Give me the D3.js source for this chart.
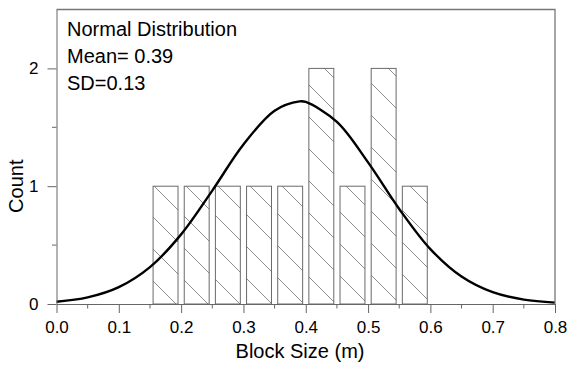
<!DOCTYPE html>
<html>
<head>
<meta charset="utf-8">
<script src="https://cdn.jsdelivr.net/npm/d3@7"></script>
<style>
  body { margin: 0; background: #fff; }
  text { font-family: "Liberation Sans", Arial, sans-serif; fill: #000; }
</style>
</head>
<body>
<script>
// histogram bins (bin centres, m) and counts
const binCentres = [0.175, 0.225, 0.275, 0.325, 0.375, 0.425, 0.475, 0.525, 0.575];
const counts = [1, 1, 1, 1, 1, 2, 1, 2, 1];
const binWidth = 0.05;

// fitted normal curve
const curveX = [0, 0.05, 0.1, 0.15, 0.2, 0.25, 0.3, 0.35, 0.39, 0.4, 0.45, 0.5, 0.55, 0.6, 0.65, 0.7, 0.75, 0.8];
const curveY = [0.019, 0.056, 0.143, 0.313, 0.591, 0.963, 1.354, 1.641, 1.72, 1.715, 1.546, 1.202, 0.807, 0.466, 0.233, 0.100, 0.037, 0.012];

const xTicks = [0, 0.1, 0.2, 0.3, 0.4, 0.5, 0.6, 0.7, 0.8];
const xMinor = [0.05, 0.15, 0.25, 0.35, 0.45, 0.55, 0.65, 0.75];
const yTicks = [0, 1, 2];
const yMinor = [0.5, 1.5];
const legendLines = ["Normal Distribution", "Mean= 0.39", "SD=0.13"];

const width = 568, height = 369;
const marginLeft = 56.5, marginRight = 13, marginTop = 9.5, marginBottom = 65;
const axisColor = "#666";

const svg = d3.select("body").append("svg")
    .attr("width", width)
    .attr("height", height);

const x = d3.scaleLinear().domain([0, 0.8]).range([marginLeft, width - marginRight]);
const y = d3.scaleLinear().domain([0, 2.5]).range([height - marginBottom, marginTop]);

// hatch pattern, "\" lines
const defs = svg.append("defs");
defs.append("pattern")
    .attr("id", "hatch")
    .attr("patternUnits", "userSpaceOnUse")
    .attr("width", 32).attr("height", 32)
  .append("path")
    .attr("d", "M0,0L32,32M-2,30L2,34M30,-2L34,2")
    .attr("stroke", "#808080")
    .attr("stroke-width", 0.9)
    .attr("fill", "none");

// bars
const barW = (x(binWidth) - x(0)) * 0.8;
svg.selectAll(".bar")
    .data(binCentres)
    .enter().append("rect")
    .attr("class", "bar")
    .attr("x", (d) => x(d) - barW / 2)
    .attr("y", (d, i) => y(counts[i]))
    .attr("width", barW)
    .attr("height", (d, i) => y(0) - y(counts[i]))
    .attr("fill", "url(#hatch)")
    .attr("stroke", "#6a6a6a")
    .attr("stroke-width", 1);

// normal curve
const line = d3.line()
    .x((d, i) => x(curveX[i]))
    .y((d) => y(d))
    .curve(d3.curveCatmullRom.alpha(0.5));
svg.append("path")
    .datum(curveY)
    .attr("d", line)
    .attr("fill", "none")
    .attr("stroke", "#000")
    .attr("stroke-width", 2.4);

// frame (top + right)
svg.append("path")
    .attr("d", `M${x(0)},${y(2.5)}H${x(0.8)}V${y(0)}`)
    .attr("fill", "none")
    .attr("stroke", "#777")
    .attr("stroke-width", 1.3);

// x axis
const gx = svg.append("g")
    .attr("transform", `translate(0,${y(0)})`)
    .call(d3.axisBottom(x).tickValues(xTicks).tickFormat(d3.format(".1f")).tickSize(9).tickPadding(8).tickSizeOuter(0));
gx.selectAll(".tick text").attr("font-size", 17).attr("font-family", null);
gx.selectAll("line, path").attr("stroke", axisColor);
svg.append("g")
    .selectAll("line")
    .data(xMinor)
    .enter().append("line")
    .attr("x1", (d) => x(d)).attr("x2", (d) => x(d))
    .attr("y1", y(0)).attr("y2", y(0) + 4.5)
    .attr("stroke", axisColor);

// y axis
const gy = svg.append("g")
    .attr("transform", `translate(${marginLeft},0)`)
    .call(d3.axisLeft(y).tickValues(yTicks).tickFormat(d3.format("d")).tickSize(9).tickPadding(9).tickSizeOuter(0));
gy.selectAll(".tick text").attr("font-size", 17).attr("font-family", null);
gy.selectAll("line, path").attr("stroke", axisColor);
svg.append("g")
    .selectAll("line")
    .data(yMinor)
    .enter().append("line")
    .attr("x1", marginLeft - 4.5).attr("x2", marginLeft)
    .attr("y1", (d) => y(d)).attr("y2", (d) => y(d))
    .attr("stroke", axisColor);

// axis titles
svg.append("text")
    .attr("x", 300)
    .attr("y", 358)
    .attr("text-anchor", "middle")
    .attr("font-size", 20)
    .text("Block Size (m)");

svg.append("text")
    .attr("transform", `translate(23,${y(1.0)}) rotate(-90)`)
    .attr("text-anchor", "middle")
    .attr("font-size", 20)
    .text("Count");

// legend text
svg.selectAll(".legend")
    .data(legendLines)
    .enter().append("text")
    .attr("class", "legend")
    .attr("x", 67)
    .attr("y", (d, i) => 36 + i * 27)
    .attr("font-size", 20)
    .text((d) => d);
</script>
</body>
</html>
